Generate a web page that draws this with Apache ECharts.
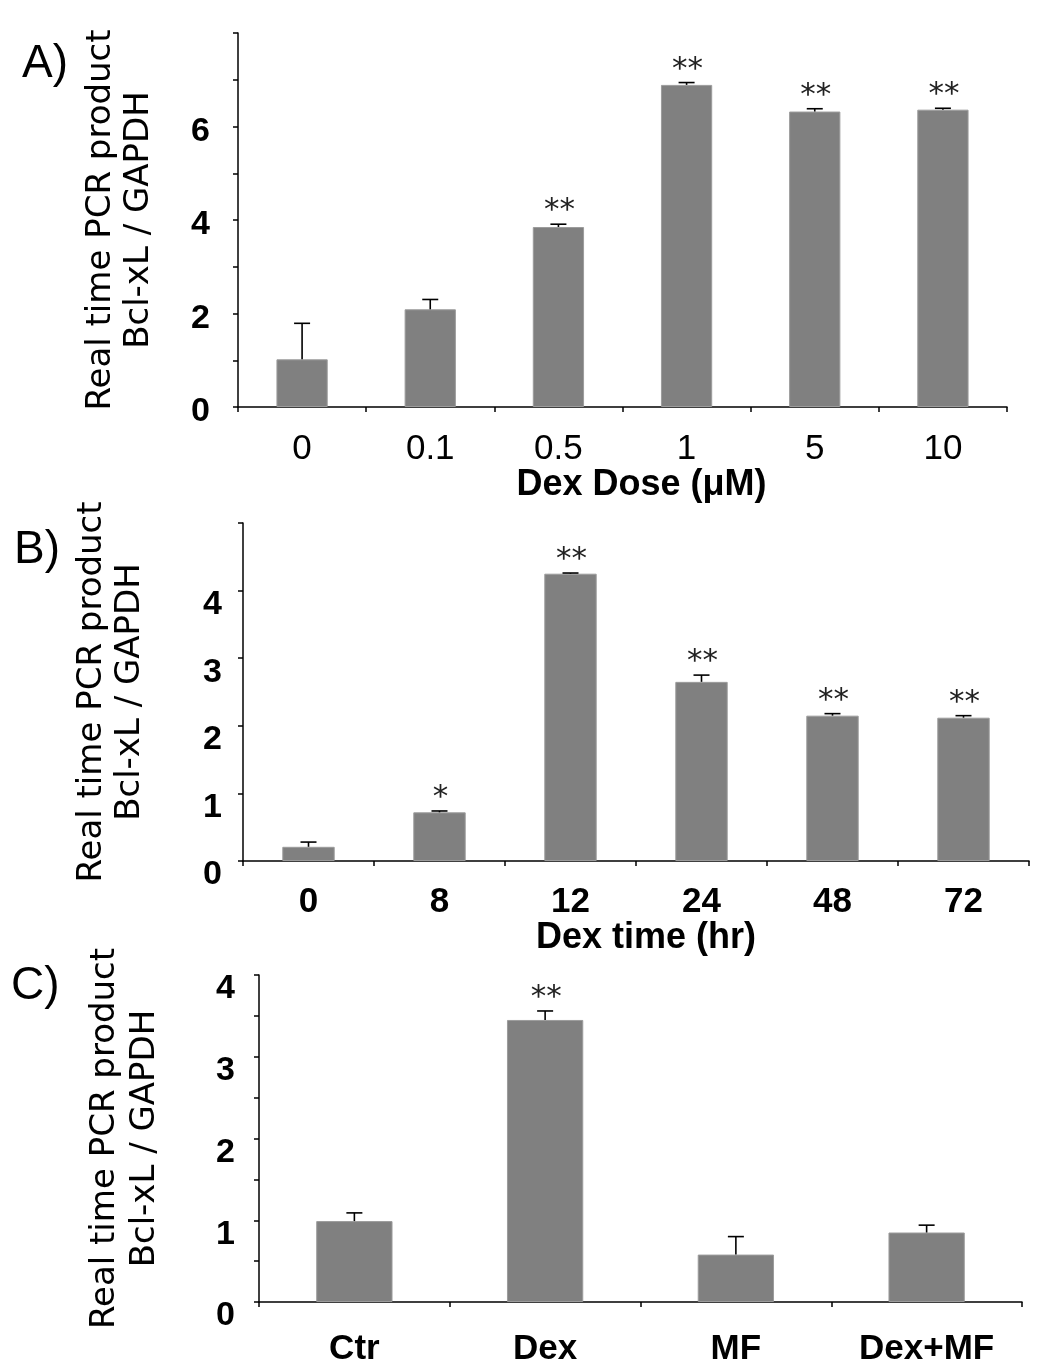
<!DOCTYPE html>
<html><head><meta charset="utf-8">
<script src="https://cdn.jsdelivr.net/npm/echarts@6/dist/echarts.min.js"></script>
<style>html,body{margin:0;padding:0;background:#fff}#c{width:1041px;height:1361px}</style>
</head><body><div id="c"></div>
<script>
// ---- data ----
const catA = ['0', '0.1', '0.5', '1', '5', '10'];
const meanA = [1.02, 2.09, 3.85, 6.89, 6.32, 6.36];
const errA = [0.77, 0.21, 0.06, 0.05, 0.06, 0.03];
const starsA = ['', '', '**', '**', '**', '**'];
const yLabelsA = ['0', '2', '4', '6'];

const catB = ['0', '8', '12', '24', '48', '72'];
const meanB = [0.21, 0.72, 4.25, 2.65, 2.15, 2.12];
const errB = [0.07, 0.02, 0.01, 0.10, 0.03, 0.03];
const starsB = ['', '*', '**', '**', '**', '**'];
const yLabelsB = ['0', '1', '2', '3', '4'];

const catC = ['Ctr', 'Dex', 'MF', 'Dex+MF'];
const meanC = [0.99, 3.45, 0.58, 0.85];
const errC = [0.10, 0.11, 0.22, 0.09];
const starsC = ['', '**', '', ''];
const yLabelsC = ['0', '1', '2', '3', '4'];

const yTitle = 'Real time PCR product\nBcl-xL / GAPDH';
const panelLetters = ['A)', 'B)', 'C)'];

// ---- chart ----
const SANS = '"Liberation Sans", Arial, sans-serif';
const TFONT = '"DejaVu Sans", sans-serif';
const chart = echarts.init(document.getElementById('c'));

function yAxis(idx, max, interval, shown, shift, margin, gap, lh) {
  return {
    type: 'value', gridIndex: idx, min: 0, max: max, interval: interval,
    axisLine: {show: true, lineStyle: {color: '#000', width: 1.5}},
    axisTick: {show: true, length: 5, lineStyle: {color: '#000', width: 1.5}},
    splitLine: {show: false},
    axisLabel: {
      formatter: v => shown.includes(String(v)) ? String(v) : '',
      fontFamily: SANS, fontWeight: 'bold', fontSize: 34, color: '#000',
      margin: margin, verticalAlign: 'top', lineHeight: 2 * shift
    },
    name: yTitle, nameLocation: 'middle', nameRotate: 90, nameGap: gap,
    nameTextStyle: {fontFamily: TFONT, fontSize: 34, color: '#000', lineHeight: lh, align: 'center', verticalAlign: 'middle'}
  };
}
function xAxis(idx, cats, bold, size, margin, name, gap, shift) {
  return {
    type: 'category', gridIndex: idx, data: cats,
    axisLine: {show: true, lineStyle: {color: '#000', width: 1.5}},
    axisTick: {show: true, length: 5, lineStyle: {color: '#000', width: 1.5}},
    axisLabel: {interval: 0, fontFamily: SANS, fontWeight: bold ? 'bold' : 'normal', fontSize: size, color: '#000', margin: margin, verticalAlign: 'middle'},
    name: name, nameLocation: 'middle', nameGap: gap,
    nameTextStyle: {fontFamily: SANS, fontWeight: 'bold', fontSize: 36, color: '#000', verticalAlign: 'middle', padding: [0, 0, 0, shift]}
  };
}
function makeRender(stars) {
  return function (params, api) {
    const k = api.value(0), m = api.value(1), e = api.value(2);
    const p0 = api.coord([k, m]), p1 = api.coord([k, m + e]);
    const s = {stroke: '#000', lineWidth: 1.6};
    const ch = [
      {type: 'line', shape: {x1: p0[0], y1: p0[1], x2: p1[0], y2: p1[1]}, style: s},
      {type: 'line', shape: {x1: p1[0] - 8, y1: p1[1], x2: p1[0] + 8, y2: p1[1]}, style: s}
    ];
    const st = stars[params.dataIndex];
    if (st) ch.push({type: 'text', x: p1[0] + 1, y: p1[1] - 13,
      style: {text: st, fill: '#222', fontSize: 31, fontFamily: TFONT, align: 'center', verticalAlign: 'middle'}});
    return {type: 'group', children: ch};
  };
}
function barSeries(i, mean) {
  return {type: 'bar', xAxisIndex: i, yAxisIndex: i, data: mean, barWidth: '40%',
    itemStyle: {color: '#808080', borderColor: '#9c9c9c', borderWidth: 1}};
}
function errSeries(i, mean, err, stars) {
  return {type: 'custom', xAxisIndex: i, yAxisIndex: i, z: 10,
    data: mean.map((m, k) => [k, m, err[k]]), renderItem: makeRender(stars)};
}

const option = {
  backgroundColor: '#fff',
  animation: false,
  title: [
    {text: panelLetters[0], left: 22, top: 41, padding: 0, textStyle: {fontFamily: SANS, fontWeight: 'normal', fontSize: 46, lineHeight: 46, color: '#000'}},
    {text: panelLetters[1], left: 14, top: 527, padding: 0, textStyle: {fontFamily: SANS, fontWeight: 'normal', fontSize: 46, lineHeight: 46, color: '#000'}},
    {text: panelLetters[2], left: 11, top: 963, padding: 0, textStyle: {fontFamily: SANS, fontWeight: 'normal', fontSize: 46, lineHeight: 46, color: '#000'}}
  ],
  grid: [
    {left: 238, right: 34, top: 33, height: 374, containLabel: false, outerBoundsMode: 'none'},
    {left: 243, right: 12, top: 523, height: 338, containLabel: false, outerBoundsMode: 'none'},
    {left: 259, right: 19, top: 975, height: 327, containLabel: false, outerBoundsMode: 'none'}
  ],
  xAxis: [
    xAxis(0, catA, false, 35, 42, 'Dex Dose (\u03bcM)', 74, 38),
    xAxis(1, catB, true, 35, 41, 'Dex time (hr)', 77, 20),
    xAxis(2, catC, true, 35, 47, '', 0, 0)
  ],
  yAxis: [
    yAxis(0, 8, 1, yLabelsA, 5, 28, 118, 38),
    yAxis(1, 5, 1, yLabelsB, 14, 21, 132, 38),
    yAxis(2, 4, 0.5, yLabelsC, 14, 24, 134, 40)
  ],
  series: [
    barSeries(0, meanA), errSeries(0, meanA, errA, starsA),
    barSeries(1, meanB), errSeries(1, meanB, errB, starsB),
    barSeries(2, meanC), errSeries(2, meanC, errC, starsC)
  ]
};
chart.setOption(option);
</script>
</body></html>
